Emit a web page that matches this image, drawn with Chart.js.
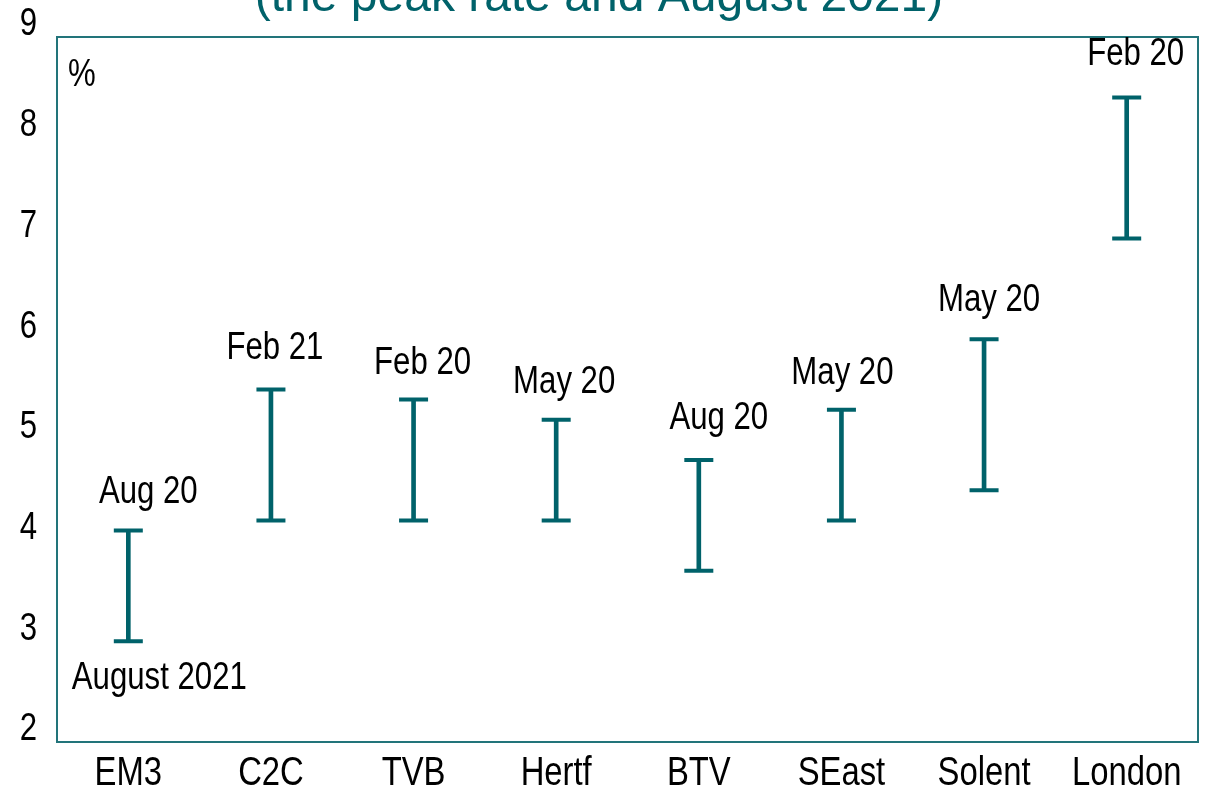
<!DOCTYPE html>
<html>
<head>
<meta charset="utf-8">
<script src="https://cdn.jsdelivr.net/npm/chart.js@4/dist/chart.umd.min.js"></script>
<style>
  html, body { margin: 0; padding: 0; background: #ffffff; }
  #wrap { width: 1209px; height: 793px; position: relative; }
</style>
</head>
<body>
<div id="wrap"><canvas id="c" width="1209" height="793"></canvas></div>
<script>
// ---- data ----
const regions = ['EM3', 'C2C', 'TVB', 'Hertf', 'BTV', 'SEast', 'Solent', 'London'];
const peakRate = [4.1, 5.5, 5.4, 5.2, 4.8, 5.3, 6.0, 8.4];
const aug2021Rate = [3.0, 4.2, 4.2, 4.2, 3.7, 4.2, 4.5, 7.0];
const peakMonth = ['Aug 20', 'Feb 21', 'Feb 20', 'May 20', 'Aug 20', 'May 20', 'May 20', 'Feb 20'];
const yTicks = [2, 3, 4, 5, 6, 7, 8, 9];
const titleText = '(the peak rate and August 2021)';
const unitText = '%';
const lowLabel = 'August 2021';

// ---- styling ----
const TEAL = '#00626a';
const BORDER = '#22747a';
const FONT = "'Liberation Sans', Arial, sans-serif";
// per-label nudges (pixels) relative to the top cap, like the manually placed labels
const peakNudgeX = [20, 4, 9, 8, 20, 1, 5, 9];
const peakNudgeY = [-38, -41, -36, -37, -41, -36, -39, -43];

// Narrow (condensed) text rendering: horizontally compress glyphs about their anchor point
let narrowActive = true;
const NARROW_SCALE = 0.82;
const origFillText = CanvasRenderingContext2D.prototype.fillText;
CanvasRenderingContext2D.prototype.fillText = function (t, x, y, mw) {
  if (!narrowActive) {
    return mw === undefined ? origFillText.call(this, t, x, y) : origFillText.call(this, t, x, y, mw);
  }
  this.save();
  this.translate(x, y);
  this.scale(NARROW_SCALE, 1);
  origFillText.call(this, t, 0, 0);
  this.restore();
};

const decorPlugin = {
  id: 'decor',
  afterDatasetsDraw(chart) {
    const ctx = chart.ctx;
    const a = chart.chartArea;
    const xs = chart.scales.x, ys = chart.scales.y;
    ctx.save();
    // plot border box
    ctx.strokeStyle = BORDER;
    ctx.lineWidth = 2;
    ctx.strokeRect(a.left, a.top, a.right - a.left, a.bottom - a.top);
    // title (partially cut at top)
    narrowActive = false;
    ctx.fillStyle = TEAL;
    ctx.font = "48px " + FONT;
    ctx.textAlign = 'center';
    ctx.textBaseline = 'alphabetic';
    ctx.fillText(titleText, 599, 11);
    narrowActive = true;
    // unit label
    ctx.fillStyle = '#000';
    ctx.font = "38px " + FONT;
    ctx.textAlign = 'left';
    ctx.textBaseline = 'middle';
    ctx.fillText(unitText, 68, 76);
    // peak labels
    ctx.textAlign = 'center';
    regions.forEach((r, i) => {
      const x = xs.getPixelForValue(i) + peakNudgeX[i];
      const y = ys.getPixelForValue(peakRate[i]) + peakNudgeY[i];
      ctx.fillText(peakMonth[i], x, y);
    });
    // low label for the first category only
    ctx.fillText(lowLabel, xs.getPixelForValue(0) + 31, ys.getPixelForValue(aug2021Rate[0]) + 37);
    ctx.restore();
  }
};

function noPad(s) { s.paddingLeft = 0; s.paddingRight = 0; s.paddingTop = 0; s.paddingBottom = 0; }

new Chart(document.getElementById('c'), {
  type: 'bar',
  data: {
    labels: regions,
    datasets: [
      {
        type: 'bar',
        data: regions.map((r, i) => [aug2021Rate[i], peakRate[i]]),
        backgroundColor: TEAL,
        barThickness: 4,
        borderWidth: 0,
        order: 2
      },
      {
        type: 'line',
        data: peakRate,
        showLine: false,
        pointStyle: 'line',
        pointRadius: 14.5,
        borderWidth: 4,
        borderColor: TEAL,
        backgroundColor: TEAL,
        order: 1
      },
      {
        type: 'line',
        data: aug2021Rate,
        showLine: false,
        pointStyle: 'line',
        pointRadius: 14.5,
        borderWidth: 4,
        borderColor: TEAL,
        backgroundColor: TEAL,
        order: 1
      }
    ]
  },
  options: {
    responsive: false,
    animation: false,
    events: [],
    layout: { autoPadding: false, padding: { top: 37, right: 11, left: 0, bottom: 0 } },
    plugins: { legend: { display: false }, tooltip: { enabled: false }, title: { display: false } },
    scales: {
      x: {
        type: 'category',
        offset: true,
        grid: { display: false, drawTicks: false },
        border: { display: false },
        ticks: { color: '#000', font: { family: FONT, size: 40 }, padding: 8, maxRotation: 0, autoSkip: false },
        afterFit(s) { s.height = 51; noPad(s); }
      },
      y: {
        min: 2,
        max: 9,
        grid: { display: false, drawTicks: false },
        border: { display: false },
        afterBuildTicks(s) { s.ticks = yTicks.map(v => ({ value: v })); },
        ticks: { color: '#000', font: { family: FONT, size: 38 }, padding: 20, labelOffset: -12 },
        afterFit(s) { s.width = 57; noPad(s); }
      }
    }
  },
  plugins: [decorPlugin]
});
</script>
</body>
</html>
